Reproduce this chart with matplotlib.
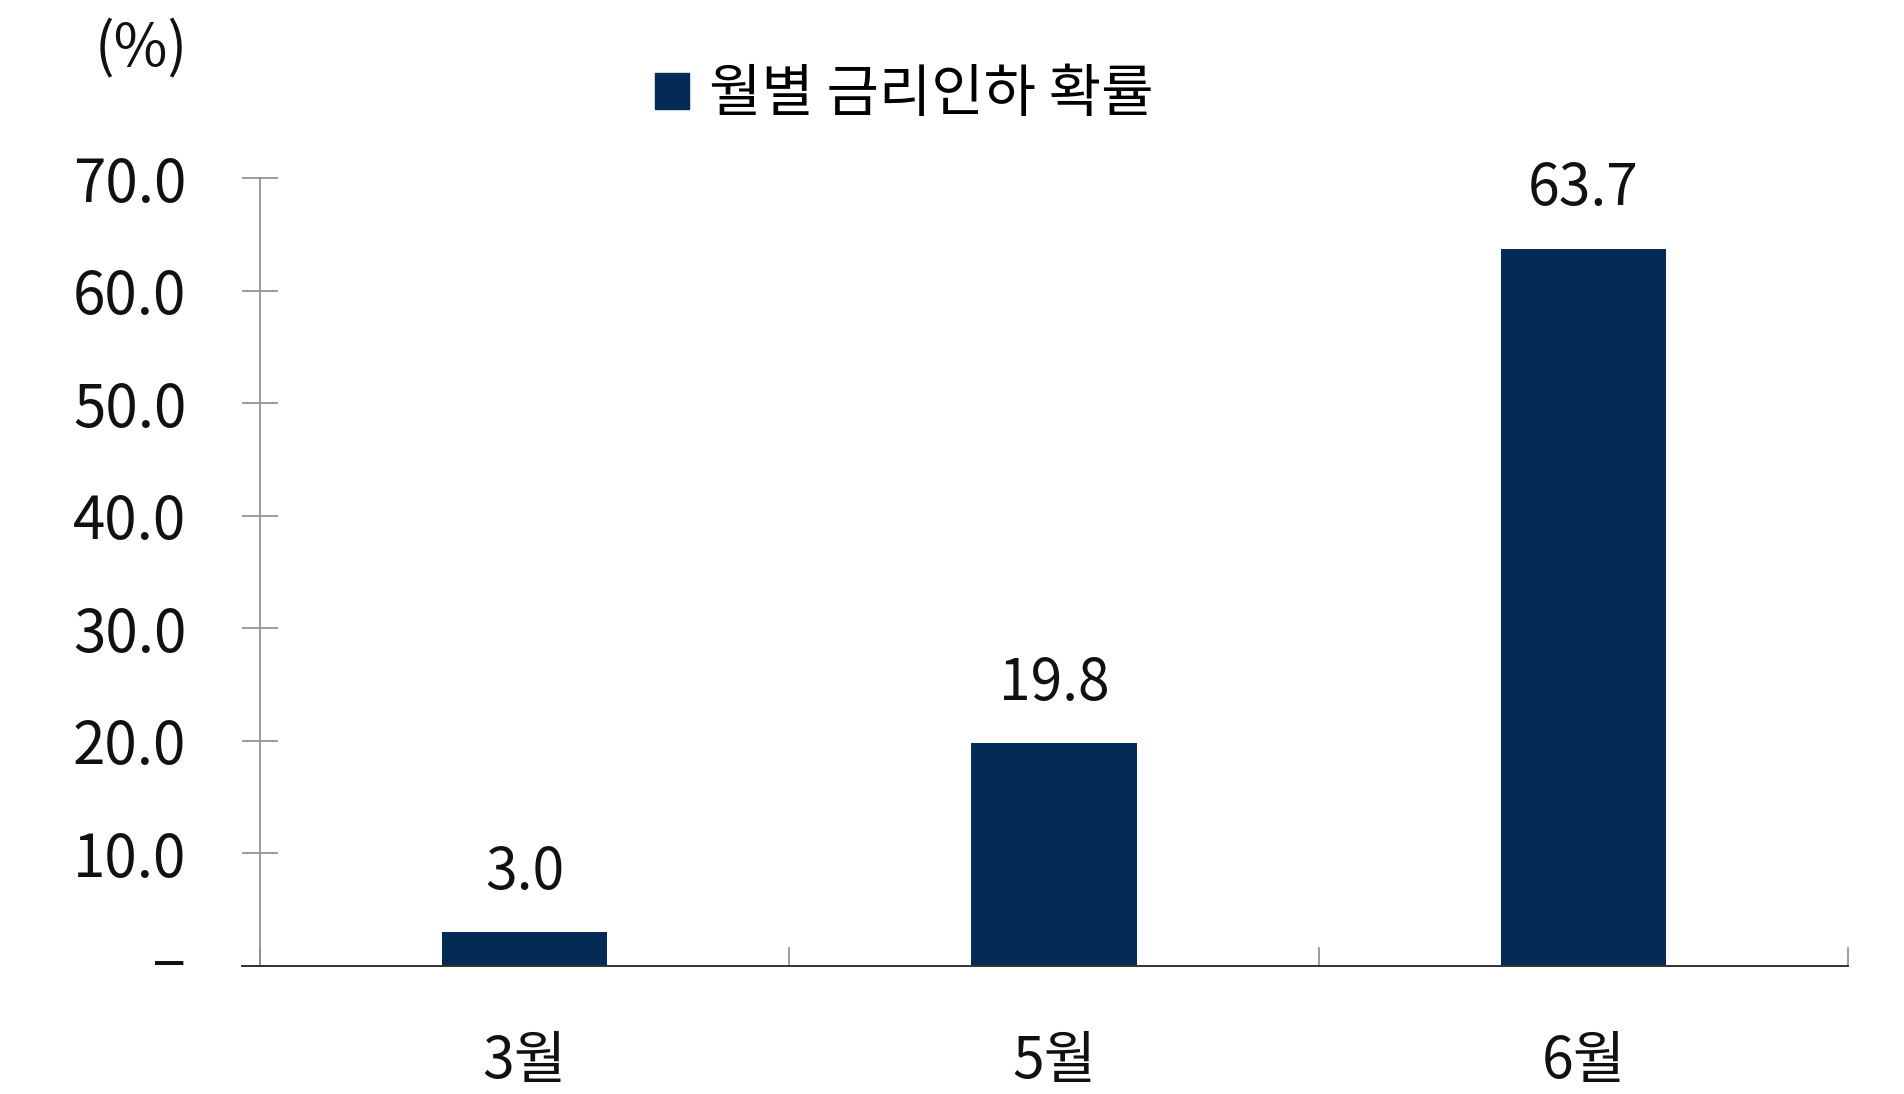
import numpy as np
import matplotlib.pyplot as plt
import matplotlib.transforms as mtrans
from matplotlib.patches import Rectangle

plt.rcParams['font.family'] = ['Noto Sans CJK KR', 'DejaVu Sans']
plt.rcParams['font.weight'] = 'light'

months = ['3월', '5월', '6월']
probs = [3.0, 19.8, 63.7]
series_name = '월별 금리인하 확률'
yticks = [0, 10, 20, 30, 40, 50, 60, 70]
ytick_labels = ['–', '10.0', '20.0', '30.0', '40.0', '50.0', '60.0', '70.0']

navy = '#032B55'
gray = '#8C8C8C'

fig = plt.figure(figsize=(19.04, 10.94), dpi=100)
ax = fig.add_axes([260/1904, 1 - 966/1094, (1848-260)/1904, (966-178)/1094])

x = np.arange(len(months))
bars = ax.bar(x, probs, width=0.312, color=navy, zorder=3)

for xi, v in zip(x, probs):
    ax.annotate('%.1f' % v, (xi, v), xytext=(0, 22), textcoords='offset points',
                ha='center', va='bottom', fontsize=41, color='#111111')

ax.set_xlim(-0.5, 2.5)
ax.set_ylim(0, 70)

for s in ['top', 'right', 'bottom']:
    ax.spines[s].set_visible(False)
ax.spines['left'].set_color(gray)
ax.spines['left'].set_linewidth(1.2)

ax.set_yticks(yticks)
ax.set_yticklabels(ytick_labels, fontsize=42, color='#111111')
ax.tick_params(axis='y', direction='inout', length=26, width=1.2, color=gray, pad=40)
# zero label is a wider dash sitting a little higher
zero_lbl = ax.get_yticklabels()[0]
zero_lbl.set_fontsize(46)
zero_lbl.set_transform(zero_lbl.get_transform() +
                       mtrans.ScaledTranslation(0, 8/72, fig.dpi_scale_trans))

# category labels between boundary ticks
ax.set_xticks(x)
ax.set_xticklabels(months, fontsize=41, color='#111111')
ax.tick_params(axis='x', length=0, pad=48)

# baseline and boundary ticks
ax.axhline(0, xmin=-0.0115, xmax=1, color='#333333', lw=1.4, clip_on=False, zorder=4)
for b in np.arange(-0.5, len(months), 1.0):
    ax.plot([b, b], [0, 1.6], color=gray, lw=1.2, zorder=2, clip_on=False)

# legend
ax.legend([Rectangle((0, 0), 1, 1, color=navy)], [series_name],
          loc='center', bbox_to_anchor=(904/1904, 1 - 95/1094),
          bbox_transform=fig.transFigure, frameon=False, fontsize=41,
          handlelength=0.6, handleheight=0.6, handletextpad=0.35)

fig.text(141/1904, 1 - 50/1094, '(%)', ha='center', va='center', fontsize=42, color='#111111')

fig.savefig('out.png', dpi=100)
